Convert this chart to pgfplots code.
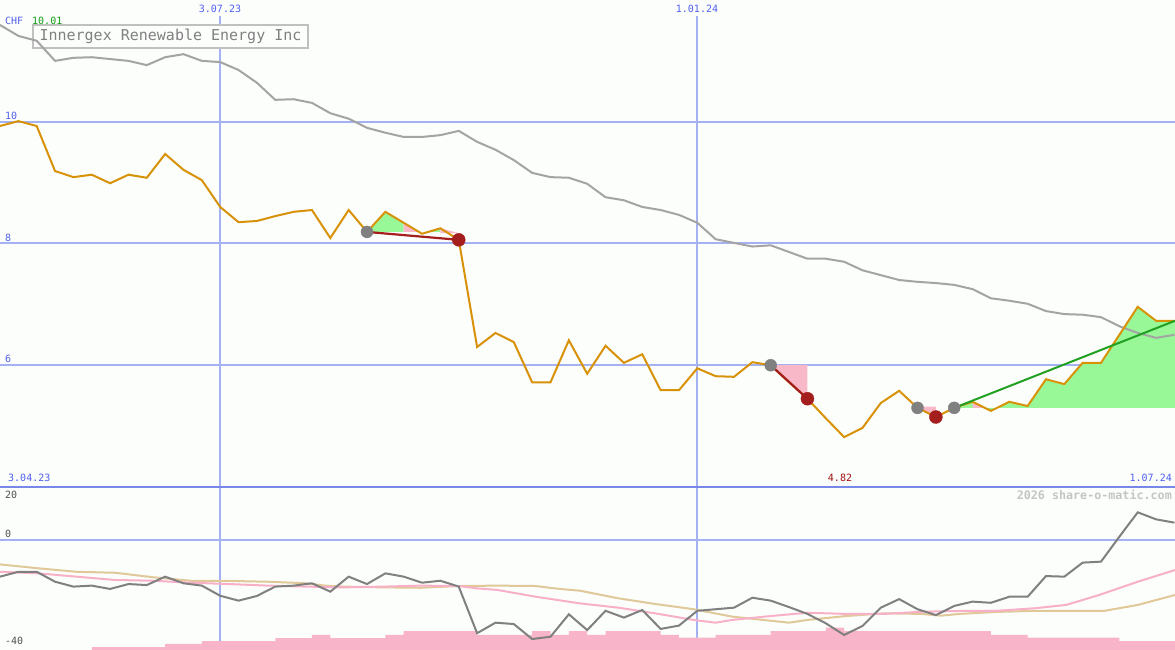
\documentclass[border=0pt]{standalone}
\usepackage{fontspec}
\setmainfont{DejaVu Sans Mono}
\usepackage{pgfplots}
\pgfplotsset{compat=1.18}
\usepackage{pgfplotstable}

\definecolor{bg}{RGB}{252,254,252}
\definecolor{gridblue}{RGB}{164,178,244}
\definecolor{sepblue}{RGB}{120,136,232}
\definecolor{labblue}{RGB}{80,96,240}
\definecolor{labgreen}{RGB}{16,160,16}
\definecolor{labred}{RGB}{160,16,16}
\definecolor{pricec}{RGB}{216,146,8}
\definecolor{ma}{RGB}{164,164,164}
\definecolor{fillgreen}{RGB}{152,248,152}
\definecolor{fillpink}{RGB}{248,184,200}
\definecolor{sigred}{RGB}{165,30,30}
\definecolor{siggray}{RGB}{128,128,128}
\definecolor{trendgreen}{RGB}{34,160,34}
\definecolor{momc}{RGB}{128,128,128}
\definecolor{pinkline}{RGB}{248,176,200}
\definecolor{tanline}{RGB}{224,200,152}
\definecolor{volpink}{RGB}{248,180,200}
\definecolor{boxgray}{RGB}{192,192,192}
\definecolor{titlegray}{RGB}{128,128,128}
\definecolor{wmgray}{RGB}{196,196,196}
\definecolor{axgray}{RGB}{80,80,80}

\pgfplotstableread{
i v
0 9.93
1 10.01
2 9.93
3 9.19
4 9.09
5 9.13
6 8.99
7 9.13
8 9.08
9 9.47
10 9.21
11 9.04
12 8.60
13 8.35
14 8.37
15 8.45
16 8.52
17 8.55
18 8.09
19 8.55
20 8.19
21 8.52
22 8.34
23 8.16
24 8.25
25 8.06
26 6.30
27 6.53
28 6.38
29 5.72
30 5.72
31 6.41
32 5.86
33 6.32
34 6.04
35 6.18
36 5.59
37 5.59
38 5.95
39 5.82
40 5.81
41 6.05
42 6.00
43 5.72
44 5.45
45 5.13
46 4.82
47 4.97
48 5.38
49 5.58
50 5.30
51 5.15
52 5.30
53 5.40
54 5.25
55 5.40
56 5.33
57 5.77
58 5.69
59 6.04
60 6.04
61 6.50
62 6.96
63 6.73
64 6.73
}\price

\pgfplotstableread{
i v
0 11.59
1 11.41
2 11.33
3 11.00
4 11.05
5 11.06
6 11.03
7 11.00
8 10.93
9 11.06
10 11.11
11 11.00
12 10.98
13 10.85
14 10.64
15 10.36
16 10.37
17 10.31
18 10.14
19 10.05
20 9.90
21 9.82
22 9.75
23 9.75
24 9.78
25 9.85
26 9.67
27 9.54
28 9.37
29 9.16
30 9.09
31 9.08
32 8.98
33 8.76
34 8.71
35 8.60
36 8.55
37 8.47
38 8.34
39 8.07
40 8.01
41 7.95
42 7.97
43 7.86
44 7.75
45 7.75
46 7.70
47 7.56
48 7.48
49 7.40
50 7.37
51 7.35
52 7.32
53 7.25
54 7.10
55 7.06
56 7.01
57 6.89
58 6.84
59 6.83
60 6.79
61 6.64
62 6.53
63 6.45
64 6.50
}\mavg

\pgfplotstableread{
i v
0 -18.8
1 -16.3
2 -16.3
3 -21.4
4 -23.9
5 -23.4
6 -25.1
7 -22.6
8 -23.1
9 -18.8
10 -22.2
11 -23.4
12 -28.6
13 -31.1
14 -28.7
15 -23.9
16 -23.4
17 -22.2
18 -26.5
19 -18.8
20 -22.6
21 -17.1
22 -18.8
23 -21.9
24 -20.9
25 -23.9
26 -47.8
27 -42.4
28 -43.1
29 -50.8
30 -49.6
31 -38.1
32 -46.2
33 -36.3
34 -39.8
35 -35.9
36 -45.6
37 -43.9
38 -36.3
39 -35.5
40 -34.7
41 -29.6
42 -31.1
43 -34.4
44 -37.9
45 -42.7
46 -48.7
47 -44.1
48 -34.7
49 -30.3
50 -35.5
51 -38.5
52 -33.8
53 -31.6
54 -32.2
55 -29.1
56 -29.1
57 -18.5
58 -18.8
59 -11.6
60 -11.1
61 1.7
62 14.2
63 10.6
64 8.9
}\mom

\pgfplotstableread{
i v
0 -16.3
2.07 -17.1
4.17 -18.8
6.27 -20.5
8.34 -20.9
10.4 -21.9
12.5 -22.6
14.6 -23.4
16.7 -23.9
18.7 -24.3
20.9 -23.9
22.9 -23.4
25.0 -23.6
26.0 -24.8
27.1 -25.6
29.2 -29.1
31.6 -32.5
33.7 -34.7
35.7 -37.6
37.8 -41.0
39.0 -42.4
39.9 -41.0
42.0 -39.0
44.0 -37.3
46.1 -37.9
48.2 -37.9
50.2 -36.8
52.3 -36.4
54.3 -36.3
56.4 -35.0
58.1 -33.3
59.9 -28.2
62.0 -21.4
64.03 -15.4
}\pinkma

\pgfplotstableread{
i v
0 -12.5
2.07 -14.5
4.17 -16.3
6.27 -16.8
8.34 -19.1
10.4 -20.9
12.5 -21.0
14.6 -21.4
16.7 -22.2
17.7 -23.4
18.7 -23.9
20.9 -24.3
22.9 -24.5
25.0 -23.6
27.1 -23.4
29.2 -23.6
30.2 -24.8
31.6 -26.0
33.7 -29.9
35.7 -32.8
37.8 -35.5
39.9 -39.3
42.0 -41.4
43.0 -42.4
44.0 -41.0
46.1 -39.0
48.2 -37.6
50.2 -37.9
51.3 -38.8
52.3 -37.9
54.3 -36.9
56.4 -36.3
58.5 -36.3
60.2 -36.3
62.0 -33.3
64.03 -28.2
}\tanma

\pgfplotstableread{
i v
5 -56.41
5 -55.0
9 -53.3
11 -51.8
15 -50.3
17 -48.7
18 -50.3
21 -48.7
22 -46.7
26 -48.7
29 -46.7
30 -48.7
31 -46.7
32 -48.7
33 -46.7
36 -48.7
37 -50.1
39 -48.7
42 -46.7
45 -45.0
46 -46.7
54 -48.7
56 -50.1
61 -51.8
64.03 -51.8
64.03 -56.41
}\vol

\begin{document}
\begin{tikzpicture}[x=1pt,y=1pt]
\fill[bg] (0,0) rectangle (1175,650);
\useasboundingbox (0,0) rectangle (1175,650);
% grid
\draw[gridblue, line width=2pt] (0,528) -- (1175,528);
\draw[gridblue, line width=2pt] (0,406.5) -- (1175,406.5);
\draw[gridblue, line width=2pt] (0,285) -- (1175,285);
\draw[gridblue, line width=2pt] (0,110) -- (1175,110);
\draw[gridblue, line width=1.6pt] (220,0) -- (220,634);
\draw[gridblue, line width=1.6pt] (697,0) -- (697,634);
\draw[sepblue, line width=2.5pt] (0,163) -- (1175,163);
% title box
\draw[boxgray, line width=2pt, fill=bg] (33,602) rectangle (308,625);
\node[titlegray, font=\fontsize{15}{18}\selectfont, inner sep=0pt] at (170.5,613.5) {Innergex Renewable Energy Inc};
% labels
\begin{scope}[every node/.style={inner sep=0pt, font=\fontsize{10}{12}\selectfont}]
\node[labblue, anchor=base west] at (5,625) {CHF};
\node[labgreen, anchor=base west] at (32,625) {10.01};
\node[labblue, anchor=base] at (220,637.5) {3.07.23};
\node[labblue, anchor=base] at (697,637.5) {1.01.24};
\node[labblue, anchor=base west] at (5,530) {10};
\node[labblue, anchor=base west] at (5,408) {8};
\node[labblue, anchor=base west] at (5,287) {6};
\node[labblue, anchor=base west] at (8,168) {3.04.23};
\node[labblue, anchor=base east] at (1172,168) {1.07.24};
\node[labred, anchor=base] at (840,168) {4.82};
\node[axgray, anchor=base west] at (5,151) {20};
\node[axgray, anchor=base west] at (5,112) {0};
\node[axgray, anchor=base west] at (5,5) {-40};
\node[wmgray, anchor=base east, font=\fontsize{11.7}{14}\bfseries] at (1172,150) {2026 share-o-matic.com};
\end{scope}

% top panel
\begin{axis}[at={(0pt,163pt)}, anchor=south west, scale only axis,
  width=1175pt, height=487pt, xmin=0, xmax=64.03, ymin=4, ymax=12,
  axis line style={draw=none}, xtick=\empty, ytick=\empty]
% trade fills
\addplot[fill=fillgreen, draw=none] coordinates {(20,8.19) (21,8.52) (22,8.34) (22,8.19)};
\addplot[fill=fillpink, draw=none] coordinates {(22,8.34) (22.83,8.19) (22,8.19)};
\addplot[fill=fillgreen, draw=none] coordinates {(23.33,8.19) (24,8.25) (24,8.19)};
\addplot[fill=fillpink, draw=none] coordinates {(24,8.25) (25,8.17) (24,8.17)};
\addplot[fill=fillpink, draw=none] coordinates {(42,6.00) (44,6.00) (44,5.45)};
\addplot[fill=fillpink, draw=none] coordinates {(50,5.32) (51,5.32) (51,5.15)};
\addplot[fill=fillgreen, draw=none] coordinates {(52,5.30) (53,5.40) (54,5.25) (55,5.40) (56,5.33) (57,5.77) (58,5.69) (59,6.04) (60,6.04) (61,6.50) (62,6.96) (63,6.73) (64.03,6.73) (64.03,5.30)};
\addplot[fill=fillpink, draw=none] coordinates {(53,5.30) (53,5.40) (53.67,5.30)};
% moving average
\addplot[ma, line width=2pt] table[x=i, y=v] {\mavg};
% signal dots
\addplot[only marks, mark=*, mark size=6pt, mark options={fill=siggray, draw=siggray}] coordinates {(20,8.19) (42,6.00) (50,5.30) (52,5.30)};
\addplot[only marks, mark=*, mark size=6.5pt, mark options={fill=sigred, draw=sigred}] coordinates {(25,8.06) (44,5.45) (51,5.15)};
% price
\addplot[pricec, line width=2pt] table[x=i, y=v] {\price};
% trend lines
\addplot[sigred, line width=2.2pt] coordinates {(20,8.19) (25,8.06)};
\addplot[sigred, line width=2.2pt] coordinates {(42,6.00) (44,5.45)};
\addplot[trendgreen, line width=2pt] coordinates {(52,5.30) (64.03,6.73)};
\end{axis}

% bottom panel
\begin{axis}[at={(0pt,0pt)}, anchor=south west, scale only axis,
  width=1175pt, height=163pt, xmin=0, xmax=64.03, ymin=-56.41, ymax=27.18,
  axis line style={draw=none}, xtick=\empty, ytick=\empty]
\addplot[const plot, fill=volpink, draw=none] table[x=i, y=v] {\vol};
\addplot[tanline, line width=2pt] table[x=i, y=v] {\tanma};
\addplot[pinkline, line width=2pt] table[x=i, y=v] {\pinkma};
\addplot[momc, line width=2pt] table[x=i, y=v] {\mom};
\end{axis}
\end{tikzpicture}
\end{document}
